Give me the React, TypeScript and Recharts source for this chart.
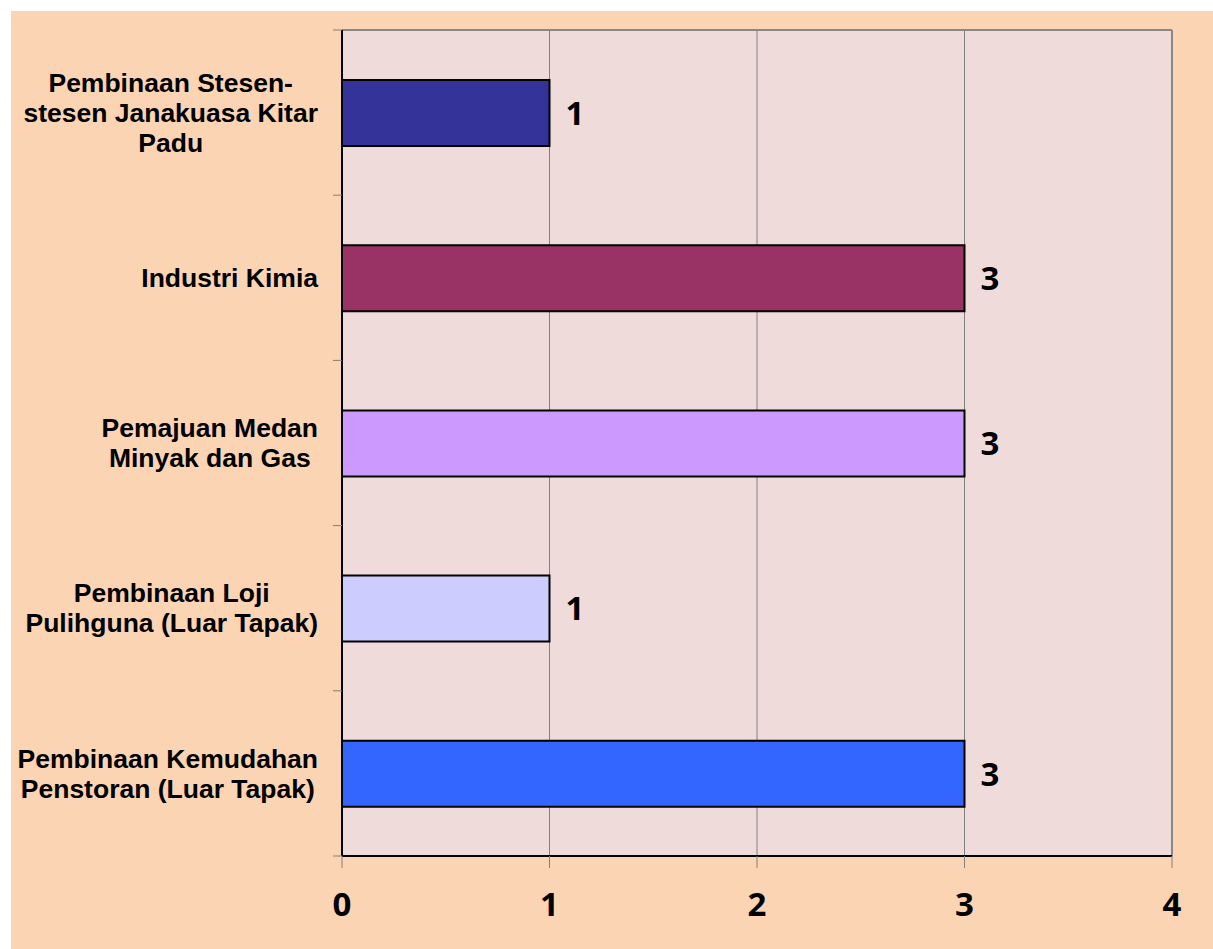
import React from 'react';
import { BarChart, Bar, XAxis, YAxis, CartesianGrid, Cell, LabelList, ReferenceLine } from 'recharts';

const categories = [
  'Pembinaan Stesen-\nstesen Janakuasa Kitar\nPadu',
  'Industri Kimia',
  'Pemajuan Medan\nMinyak dan Gas',
  'Pembinaan Loji\nPulihguna (Luar Tapak)',
  'Pembinaan Kemudahan\nPenstoran (Luar Tapak)',
];
const values = [1, 3, 3, 1, 3];
const barColors = ['#333399', '#993366', '#CC99FF', '#CCCCFF', '#3366FF'];
const xTicks = [0, 1, 2, 3, 4];

const data = categories.map((name, i) => ({ name, value: values[i] }));

const LABEL_SIZE = 26.5;
const LABEL_FONT = `bold ${LABEL_SIZE}px 'Liberation Sans', Arial, sans-serif`;
let measureCtx: CanvasRenderingContext2D | null = null;
function measure(s: string): number {
  if (!measureCtx) measureCtx = document.createElement('canvas').getContext('2d');
  if (!measureCtx) return s.length * LABEL_SIZE * 0.6;
  measureCtx.font = LABEL_FONT;
  return measureCtx.measureText(s).width;
}

const CategoryTick = (props: any) => {
  const { x, y, payload, index, visibleTicksCount, height } = props;
  const half =
    payload && typeof payload.offset === 'number' && payload.offset > 0
      ? payload.offset
      : height / (visibleTicksCount || 1) / 2;
  const lines = String(payload.value).split('\n');
  const w = Math.max(...lines.map(measure));
  const right = x - 24;
  const cx = right - w / 2;
  const lineH = 30;
  const startY = y - ((lines.length - 1) * lineH) / 2;
  const isLast = index === (visibleTicksCount || categories.length) - 1;
  return (
    <g>
      <line x1={x - 9} x2={x} y1={y - half} y2={y - half} stroke="#8a7a70" strokeWidth={1} />
      {isLast && <line x1={x - 9} x2={x} y1={y + half} y2={y + half} stroke="#8a7a70" strokeWidth={1} />}
      <text
        x={cx}
        y={startY}
        textAnchor="middle"
        fontFamily="'Liberation Sans', Arial, sans-serif"
        fontWeight="bold"
        fontSize={LABEL_SIZE}
        fill="#000"
      >
        {lines.map((l, i) => (
          <tspan key={i} x={cx} y={startY + i * lineH} dy="0.35em">
            {l}
          </tspan>
        ))}
      </text>
    </g>
  );
};

export default function App() {
  return (
    <div style={{ position: 'absolute', left: 0, top: 0, width: 1213, height: 949, background: '#ffffff' }}>
      <div style={{ position: 'absolute', left: 11, top: 11, width: 1202, height: 938, background: '#FBD4B4' }}>
        <BarChart
          width={1202}
          height={938}
          data={data}
          layout="vertical"
          margin={{ top: 19, right: 41, bottom: 0, left: 0 }}
        >
          <CartesianGrid horizontal={false} stroke="#808080" fill="#EFDCDA" />
          <CartesianGrid
            vertical={false}
            stroke="#888888"
            strokeWidth={2}
            horizontalCoordinatesGenerator={({ offset }: any) => [offset.top]}
          />
          <XAxis
            type="number"
            domain={[0, 4]}
            ticks={xTicks}
            interval={0}
            height={93}
            axisLine={{ stroke: '#000', strokeWidth: 2 }}
            tickLine={{ stroke: '#808080' }}
            tickSize={12}
            tickMargin={25}
            tick={{ fontSize: 33, fontWeight: 'bold', fontFamily: "'Open Sans', sans-serif", fill: '#000' }}
          />
          <YAxis
            type="category"
            dataKey="name"
            width={331}
            axisLine={{ stroke: '#000', strokeWidth: 2 }}
            tickLine={false}
            tickSize={0}
            tickMargin={0}
            interval={0}
            tick={<CategoryTick />}
          />
          <ReferenceLine x={4} stroke="#888888" strokeWidth={2} />
          <Bar dataKey="value" barSize={66} stroke="#000" strokeWidth={2} isAnimationActive={false}>
            {data.map((d, i) => (
              <Cell key={d.name} fill={barColors[i]} />
            ))}
            <LabelList
              dataKey="value"
              position="right"
              offset={16}
              fill="#000"
              fontSize={33}
              fontWeight="bold"
              fontFamily="'Open Sans', sans-serif"
            />
          </Bar>
        </BarChart>
      </div>
    </div>
  );
}
